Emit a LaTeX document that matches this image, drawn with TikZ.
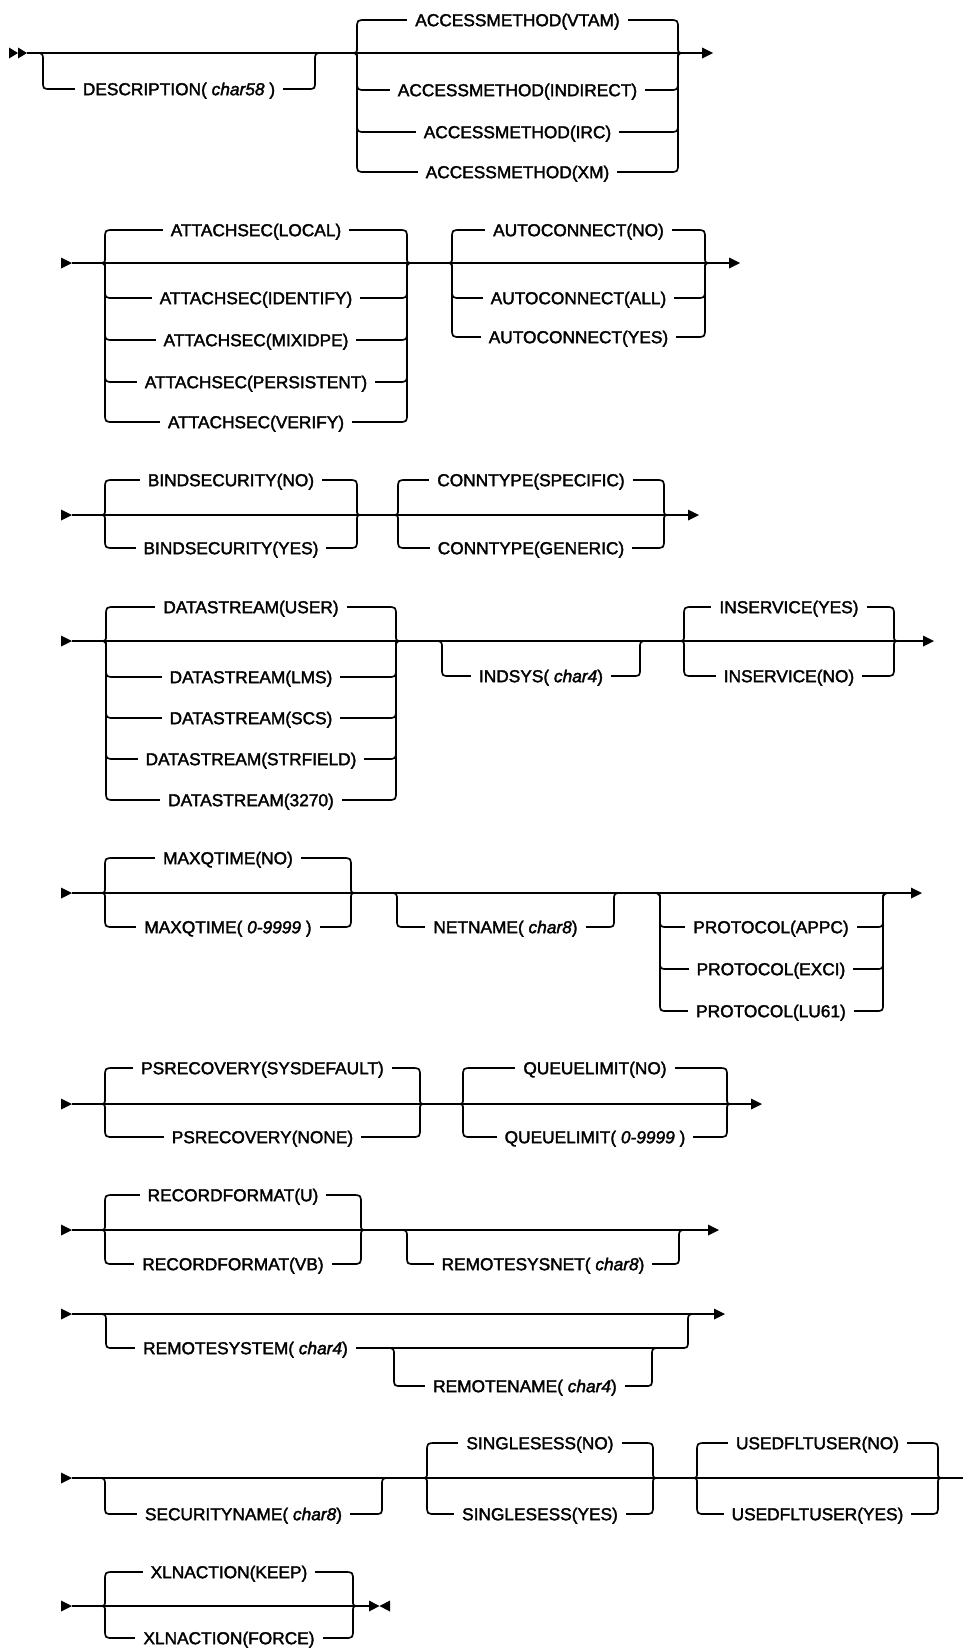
\documentclass[tikz,border=0pt]{standalone}
\usepackage{fontspec}
\setmainfont{Liberation Sans}
\newfontfamily\lblfam{Liberation Sans}[BoldFont={Liberation Sans},BoldItalicFont={Liberation Sans Italic},BoldFeatures={FakeBold=2},BoldItalicFeatures={FakeBold=2}]
\newcommand{\lblfont}{\lblfam\bfseries\fontsize{17.3}{20}\selectfont}
% optional branch below the main line
\newcommand{\rrOptPath}[4]{%
 \draw[rr] (#1,#3) .. controls (#1+8,#3) .. (#1+8,#3+8) -- (#1+8,#4-8) .. controls (#1+8,#4) .. (#1+16,#4) -- (#2-16,#4) .. controls (#2-8,#4) .. (#2-8,#4-8) -- (#2-8,#3+8) .. controls (#2-8,#3) .. (#2,#3);}
\newcommand{\rrOpt}[7]{% name xa xb y0 y1 textx text
 \rrOptPath{#2}{#3}{#4}{#5}
 \node[lbl] (#1) at (#6,#5+6.2) {#7};}
% one row of a choice group
\newcommand{\rrChoiceRow}[4]{% xl xr y0 y
 \pgfmathsetmacro\rrs{(#4<#3)?-1:1}
 \pgfmathsetmacro\rrA{#3+6*\rrs}
 \pgfmathsetmacro\rrB{#4-9*\rrs}
 \draw[rr] (#1-6,#3) .. controls (#1,#3) .. (#1,\rrA) -- (#1,\rrB) .. controls (#1,#4) .. (#1+9,#4) -- (#2-9,#4) .. controls (#2,#4) .. (#2,\rrB) -- (#2,\rrA) .. controls (#2,#3) .. (#2+6,#3);}
\newcommand{\rrChoice}[5]{% prefix xl xr y0 list
 \foreach \ry/\rt in {#5} {\rrChoiceRow{#2}{#3}{#4}{\ry}}
 \foreach \ry/\rt [count=\ri] in {#5} {%
   \node[lbl] (#1\ri) at ({(#2+#3)/2},\ry+6.2) {\rt\hspace{9pt}};}}
\newcommand{\rrStart}[1]{\fill (61,#1-5.5) -- (72,#1) -- (61,#1+5.5) -- cycle;}
\newcommand{\rrEnd}[2]{\fill (#1-11,#2-5.5) -- (#1,#2) -- (#1-11,#2+5.5) -- cycle;}
\begin{document}
\begin{tikzpicture}[x=1pt,y=-1pt,line join=round,
  rr/.style={draw=black,line width=1.7pt},
  lbl/.style={fill=white,inner xsep=8pt,inner ysep=1pt,anchor=base,font=\lblfont}]
\useasboundingbox (0,0) rectangle (963,1649);

% ---------- row 1 ----------
\fill (9,47.5) -- (18,53) -- (9,58.5) -- cycle;
\fill (18,47.5) -- (27,53) -- (18,58.5) -- cycle;
\draw[rr] (27,53) -- (704,53);
\rrEnd{713}{53}
\rrOpt{desc}{35}{323}{53}{89}{179}{DESCRIPTION( \textit{char58} )}
\rrChoice{acc}{357}{678}{53}{20/ACCESSMETHOD(VTAM),90/ACCESSMETHOD(INDIRECT),132/ACCESSMETHOD(IRC),172/ACCESSMETHOD(XM)}

% ---------- row 2 ----------
\rrStart{263}
\draw[rr] (72,263) -- (731,263);
\rrEnd{740}{263}
\rrChoice{att}{105}{407}{263}{230/ATTACHSEC(LOCAL),298/ATTACHSEC(IDENTIFY),340/ATTACHSEC(MIXIDPE),382/ATTACHSEC(PERSISTENT),422/ATTACHSEC(VERIFY)}
\rrChoice{auto}{452}{705}{263}{230/AUTOCONNECT(NO),298/AUTOCONNECT(ALL),337/AUTOCONNECT(YES)}

% ---------- row 3 ----------
\rrStart{515}
\draw[rr] (72,515) -- (690,515);
\rrEnd{699}{515}
\rrChoice{bind}{105}{357}{515}{480/BINDSECURITY(NO),548/BINDSECURITY(YES)}
\rrChoice{conn}{398}{664}{515}{480/CONNTYPE(SPECIFIC),548/CONNTYPE(GENERIC)}

% ---------- row 4 ----------
\rrStart{641}
\draw[rr] (72,641) -- (925,641);
\rrEnd{934}{641}
\rrChoice{ds}{106}{396}{641}{607/DATASTREAM(USER),677/DATASTREAM(LMS),718/DATASTREAM(SCS),759/DATASTREAM(STRFIELD),800/DATASTREAM(3270)}
\rrOpt{indsys}{434}{648}{641}{676}{541}{INDSYS( \textit{char4})}
\rrChoice{ins}{684}{894}{641}{607/INSERVICE(YES),676/INSERVICE(NO)}

% ---------- row 5 ----------
\rrStart{893}
\draw[rr] (72,893) -- (913,893);
\rrEnd{922}{893}
\rrChoice{maxq}{105}{351}{893}{858/MAXQTIME(NO),927/MAXQTIME( \textit{0-9999} )}
\rrOpt{netname}{389}{622}{893}{927}{505.5}{NETNAME( \textit{char8})}
\rrOpt{protA}{652}{891}{893}{927}{771}{PROTOCOL(APPC)}
\rrOpt{protE}{652}{891}{893}{969}{771}{PROTOCOL(EXCI)}
\rrOpt{protL}{652}{891}{893}{1011}{771}{PROTOCOL(LU61)}

% ---------- row 6 ----------
\rrStart{1104}
\draw[rr] (72,1104) -- (753,1104);
\rrEnd{762}{1104}
\rrChoice{psr}{105}{420}{1104}{1068/PSRECOVERY(SYSDEFAULT),1137/PSRECOVERY(NONE)}
\rrChoice{ql}{463}{727}{1104}{1068/QUEUELIMIT(NO),1137/QUEUELIMIT( \textit{0-9999} )}

% ---------- row 7 ----------
\rrStart{1230}
\draw[rr] (72,1230) -- (710,1230);
\rrEnd{719}{1230}
\rrChoice{rf}{105}{361}{1230}{1195/RECORDFORMAT(U),1264/RECORDFORMAT(VB)}
\rrOpt{rsn}{399}{687}{1230}{1264}{543}{REMOTESYSNET( \textit{char8})}

% ---------- row 8 ----------
\rrStart{1314}
\draw[rr] (72,1314) -- (716,1314);
\rrEnd{725}{1314}
\rrOpt{rsys}{98}{696}{1314}{1348}{245.5}{REMOTESYSTEM( \textit{char4})}
\rrOpt{rname}{386}{660}{1348}{1386}{525}{REMOTENAME( \textit{char4})}

% ---------- row 9 ----------
\rrStart{1478}
\draw[rr] (72,1478) -- (963,1478);
\rrOpt{secname}{97}{390}{1478}{1514}{243.5}{SECURITYNAME( \textit{char8})}
\rrChoice{ss}{427}{653}{1478}{1443/SINGLESESS(NO),1514/SINGLESESS(YES)}
\rrChoice{udu}{697}{938}{1478}{1443/USEDFLTUSER(NO),1514/USEDFLTUSER(YES)}

% ---------- row 10 ----------
\rrStart{1606}
\draw[rr] (72,1606) -- (370,1606);
\rrChoice{xln}{105}{353}{1606}{1572/XLNACTION(KEEP),1638/XLNACTION(FORCE)}
\fill (369,1600.5) -- (379.5,1606) -- (369,1611.5) -- cycle;
\fill (390,1600.5) -- (379.5,1606) -- (390,1611.5) -- cycle;
\end{tikzpicture}
\end{document}
